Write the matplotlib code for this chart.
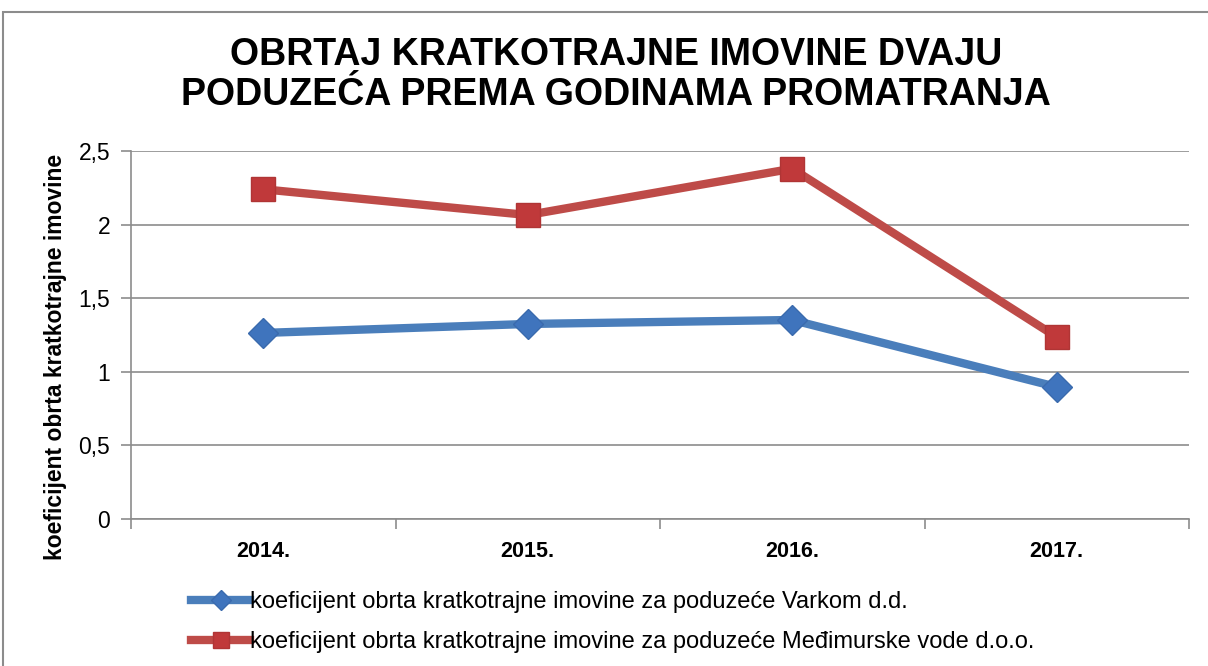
import matplotlib
matplotlib.use("Agg")
import matplotlib.pyplot as plt
from matplotlib.patches import Rectangle
from matplotlib.lines import Line2D

years = ["2014.", "2015.", "2016.", "2017."]
varkom = [1.264, 1.325, 1.352, 0.897]
medjimurske = [2.24, 2.065, 2.38, 1.236]
yticks = [0, 0.5, 1, 1.5, 2, 2.5]
ytick_labels = ["0", "0,5", "1", "1,5", "2", "2,5"]
series_names = ["koeficijent obrta kratkotrajne imovine za poduzeće Varkom d.d.",
                "koeficijent obrta kratkotrajne imovine za poduzeće Međimurske vode d.o.o."]
title = "OBRTAJ KRATKOTRAJNE IMOVINE DVAJU\nPODUZEĆA PREMA GODINAMA PROMATRANJA"
ylabel = "koeficijent obrta kratkotrajne imovine"

plt.rcParams['font.family'] = ['Liberation Sans', 'DejaVu Sans']

W, H = 1208, 666
fig = plt.figure(figsize=(W/100, H/100), dpi=100)
fig.patch.set_facecolor("white")

# outer chart frame
fig.add_artist(Rectangle((3/W, -0.1), 1.2, 1 - 12/H + 0.1, transform=fig.transFigure,
                         fill=False, edgecolor="#8c8c8c", linewidth=1.5))

left, right, top, bottom = 131, 1189, 151, 519
ax = fig.add_axes([left/W, 1 - bottom/H, (right-left)/W, (bottom-top)/H])

x = list(range(len(years)))
blue = "#4a7ebb"
red = "#be4b48"
ax.plot(x, varkom, color=blue, linewidth=6, marker="D", markersize=15,
        markerfacecolor="#3f74bd", markeredgecolor="#3a6aad", markeredgewidth=1,
        solid_capstyle="round", zorder=3)
ax.plot(x, medjimurske, color=red, linewidth=6, marker="s", markersize=17,
        markerfacecolor="#c0393a", markeredgecolor="#b03535", markeredgewidth=1,
        solid_capstyle="round", zorder=3)

ax.set_xlim(-0.5, len(years) - 0.5)
ax.set_ylim(0, 2.5)
ax.set_yticks(yticks)
ax.set_yticklabels(ytick_labels, fontsize=16.5)
ax.yaxis.grid(True, color="#8c8c8c", linewidth=1.2)
ax.set_axisbelow(True)
ax.set_xticks(x)
ax.set_xticklabels(years, fontsize=15.5, fontweight="bold")
ax.set_xticks([i - 0.5 for i in range(len(years) + 1)], minor=True)
ax.tick_params(axis="x", which="major", length=0, pad=16)
ax.tick_params(axis="x", which="minor", length=7, color="#8c8c8c", width=1.2)
ax.tick_params(axis="y", length=7, color="#8c8c8c", width=1.2, pad=8)
for s in ["top", "right"]:
    ax.spines[s].set_visible(False)
ax.spines["left"].set_color("#8c8c8c")
ax.spines["bottom"].set_color("#8c8c8c")
ax.spines["left"].set_linewidth(1.2)
ax.spines["bottom"].set_linewidth(1.2)

ax.set_ylabel(ylabel, fontsize=16.5, fontweight="bold")
ax.yaxis.set_label_coords(-64/(right-left), 0.44)

fig.text(616/W, 1 - 75/H, title, ha="center", va="center", fontsize=27,
         fontweight="bold", linespacing=1.15)

handles = [Line2D([], [], color=blue, linewidth=6, marker="D", markersize=10,
                  markerfacecolor="#3f74bd", markeredgecolor="#3a6aad"),
           Line2D([], [], color=red, linewidth=6, marker="s", markersize=12,
                  markerfacecolor="#c0393a", markeredgecolor="#b03535")]
fig.legend(handles, series_names, loc="upper left", bbox_to_anchor=(170/W, 1 - 570/H),
           frameon=False, fontsize=17, handlelength=2.5, handletextpad=0.0,
           labelspacing=0.75)

fig.savefig("out.png", dpi=100, facecolor="white")
